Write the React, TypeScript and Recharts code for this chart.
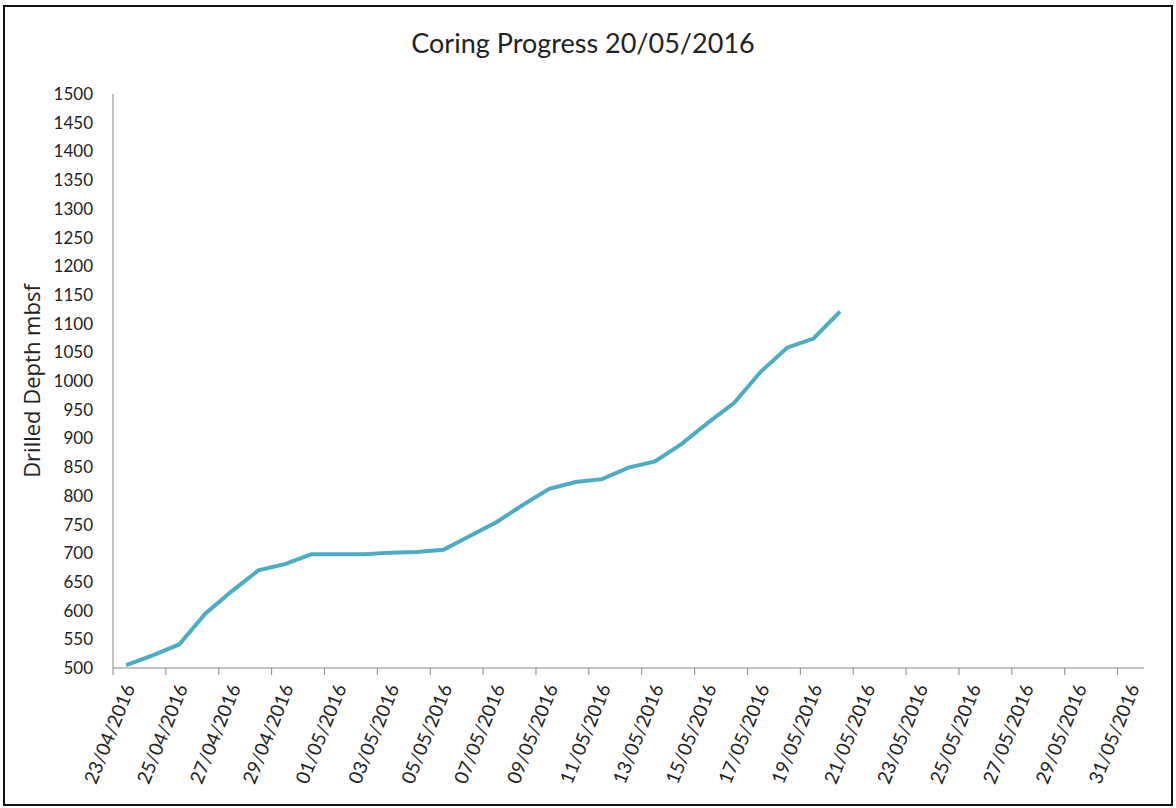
import React from "react";
import { LineChart, Line, XAxis, YAxis } from "recharts";

// one category per day, 23/04 to 31/05
const dates = [
  "23/04/2016", "24/04/2016", "25/04/2016", "26/04/2016", "27/04/2016",
  "28/04/2016", "29/04/2016", "30/04/2016", "01/05/2016", "02/05/2016",
  "03/05/2016", "04/05/2016", "05/05/2016", "06/05/2016", "07/05/2016",
  "08/05/2016", "09/05/2016", "10/05/2016", "11/05/2016", "12/05/2016",
  "13/05/2016", "14/05/2016", "15/05/2016", "16/05/2016", "17/05/2016",
  "18/05/2016", "19/05/2016", "20/05/2016", "21/05/2016", "22/05/2016",
  "23/05/2016", "24/05/2016", "25/05/2016", "26/05/2016", "27/05/2016",
  "28/05/2016", "29/05/2016", "30/05/2016", "31/05/2016",
];

// drilled depth (mbsf) reported each day up to 20/05
const depth = [
  505, 522, 541, 595, 634, 670, 681, 698, 698, 698,
  701, 702, 706, 730, 754, 784, 812, 824, 829, 849,
  860, 890, 927, 962, 1016, 1058, 1074, 1121,
];

const yTicks = [
  500, 550, 600, 650, 700, 750, 800, 850, 900, 950, 1000,
  1050, 1100, 1150, 1200, 1250, 1300, 1350, 1400, 1450, 1500,
];

const data = depth.map((d, i) => ({ idx: i, date: dates[i], depth: d }));
const xTicks = dates.map((_, i) => i).filter((i) => i % 2 === 0);

const AXIS = "#868686";
const FONT = "Lato, 'Open Sans', sans-serif";
const HALF_BAND = 13.2;

const DateTick = (props: any) => {
  const { x, y, payload } = props;
  const tx = x + 3;
  const ty = y + 17;
  return (
    <g>
      <line x1={x - HALF_BAND} y1={y} x2={x - HALF_BAND} y2={y + 7} stroke={AXIS} />
      <text
        x={tx}
        y={ty}
        dy="0.35em"
        textAnchor="end"
        fontSize={19}
        fontFamily={FONT}
        fill="#222"
        transform={`rotate(-68, ${tx}, ${ty})`}
      >
        {dates[payload.value]}
      </text>
    </g>
  );
};

export default function App() {
  return (
    <div style={{ position: "absolute", left: 0, top: 0, width: 1176, height: 808, background: "#fff" }}>
      <div
        style={{
          position: "absolute",
          left: 3,
          top: 5,
          width: 1166,
          height: 797,
          border: "2px solid #111",
        }}
      />
      <div
        style={{
          position: "absolute",
          left: 0,
          top: 26,
          width: 1166,
          textAlign: "center",
          fontFamily: FONT,
          fontSize: 27,
          color: "#222",
        }}
      >
        Coring Progress 20/05/2016
      </div>
      <div style={{ position: "absolute", left: 0, top: 0 }}>
        <LineChart
          width={1176}
          height={808}
          data={data}
          margin={{ top: 94, right: 32, bottom: 10, left: 53 }}
        >
          <XAxis
            dataKey="idx"
            type="number"
            domain={[-0.5, 38.5]}
            ticks={xTicks}
            interval={0}
            tickLine={false}
            tickSize={0}
            tickMargin={0}
            axisLine={{ stroke: AXIS }}
            height={130}
            tick={<DateTick />}
          />
          <YAxis
            type="number"
            domain={[500, 1500]}
            ticks={yTicks}
            interval={0}
            width={60}
            tickLine={false}
            tickSize={0}
            tickMargin={20}
            axisLine={{ stroke: AXIS }}
            tick={{ fontSize: 17, fontFamily: FONT, fill: "#222" }}
            label={{
              value: "Drilled Depth mbsf",
              angle: -90,
              position: "insideLeft",
              offset: -21,
              style: { textAnchor: "middle", fontSize: 22, fontFamily: "'Open Sans', sans-serif", fill: "#222" },
            }}
          />
          <Line
            type="linear"
            dataKey="depth"
            stroke="#4BACC6"
            strokeWidth={4}
            dot={false}
            isAnimationActive={false}
          />
        </LineChart>
      </div>
    </div>
  );
}
